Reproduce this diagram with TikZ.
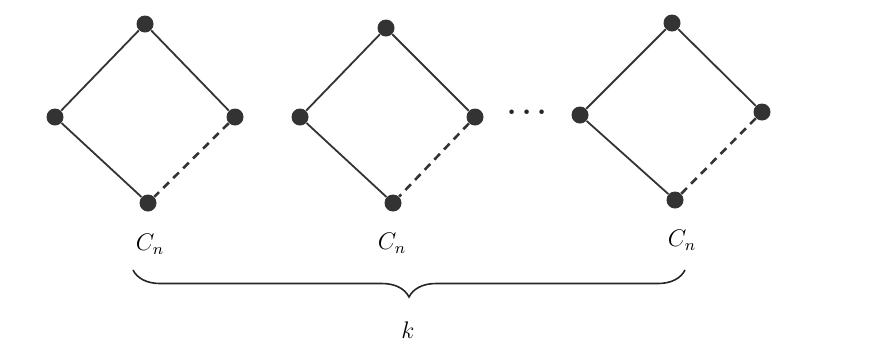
\documentclass[tikz,border=0pt]{standalone}
\usepackage{amsmath,amssymb}
\usepackage{tikz}
\usetikzlibrary{decorations.pathreplacing}

\begin{document}
\begin{tikzpicture}[
  x=0.5pt, y=-0.5pt,
  vtx/.style={circle, fill=black!80, inner sep=0pt, minimum size=8.5pt},
  edge/.style={draw=black!80, line width=0.9pt},
  cut/.style={draw=black!80, line width=1.3pt, dash pattern=on 4pt off 3pt},
  lbl/.style={font=\large}
]
\useasboundingbox (0,0) rectangle (887,345);
% first copy
\node[vtx] (t1) at (145,24) {};
\node[vtx] (l1) at (55,117) {};
\node[vtx] (r1) at (235,117) {};
\node[vtx] (b1) at (148,203) {};
\draw[edge] (t1) -- (l1) -- (b1);
\draw[edge] (t1) -- (r1);
\draw[cut] (r1) -- (b1);
\node[lbl] (c1) at (150,244) {$C_n$};
% second copy
\node[vtx] (t2) at (386,28) {};
\node[vtx] (l2) at (300,117) {};
\node[vtx] (r2) at (475,117) {};
\node[vtx] (b2) at (393,203) {};
\draw[edge] (t2) -- (l2) -- (b2);
\draw[edge] (t2) -- (r2);
\draw[cut] (r2) -- (b2);
\node[lbl] (c2) at (392,243) {$C_n$};
\node[font=\Large\boldmath, text=black!85] (dots) at (530,113) {$\cdots$};
% last copy
\node[vtx] (t3) at (672,23) {};
\node[vtx] (l3) at (580,115) {};
\node[vtx] (r3) at (762,112) {};
\node[vtx] (b3) at (675,200) {};
\draw[edge] (t3) -- (l3) -- (b3);
\draw[edge] (t3) -- (r3);
\draw[cut] (r3) -- (b3);
\node[lbl] (c3) at (682,240) {$C_n$};
% brace
\coordinate (bl) at (133,270);
\coordinate (br) at (685,270);
\draw[black!85, line width=0.8pt, decorate, decoration={brace, mirror, amplitude=13.5pt}] (bl) -- (br);
\node[lbl] (k) at (408,330) {$k$};
\end{tikzpicture}
\end{document}
